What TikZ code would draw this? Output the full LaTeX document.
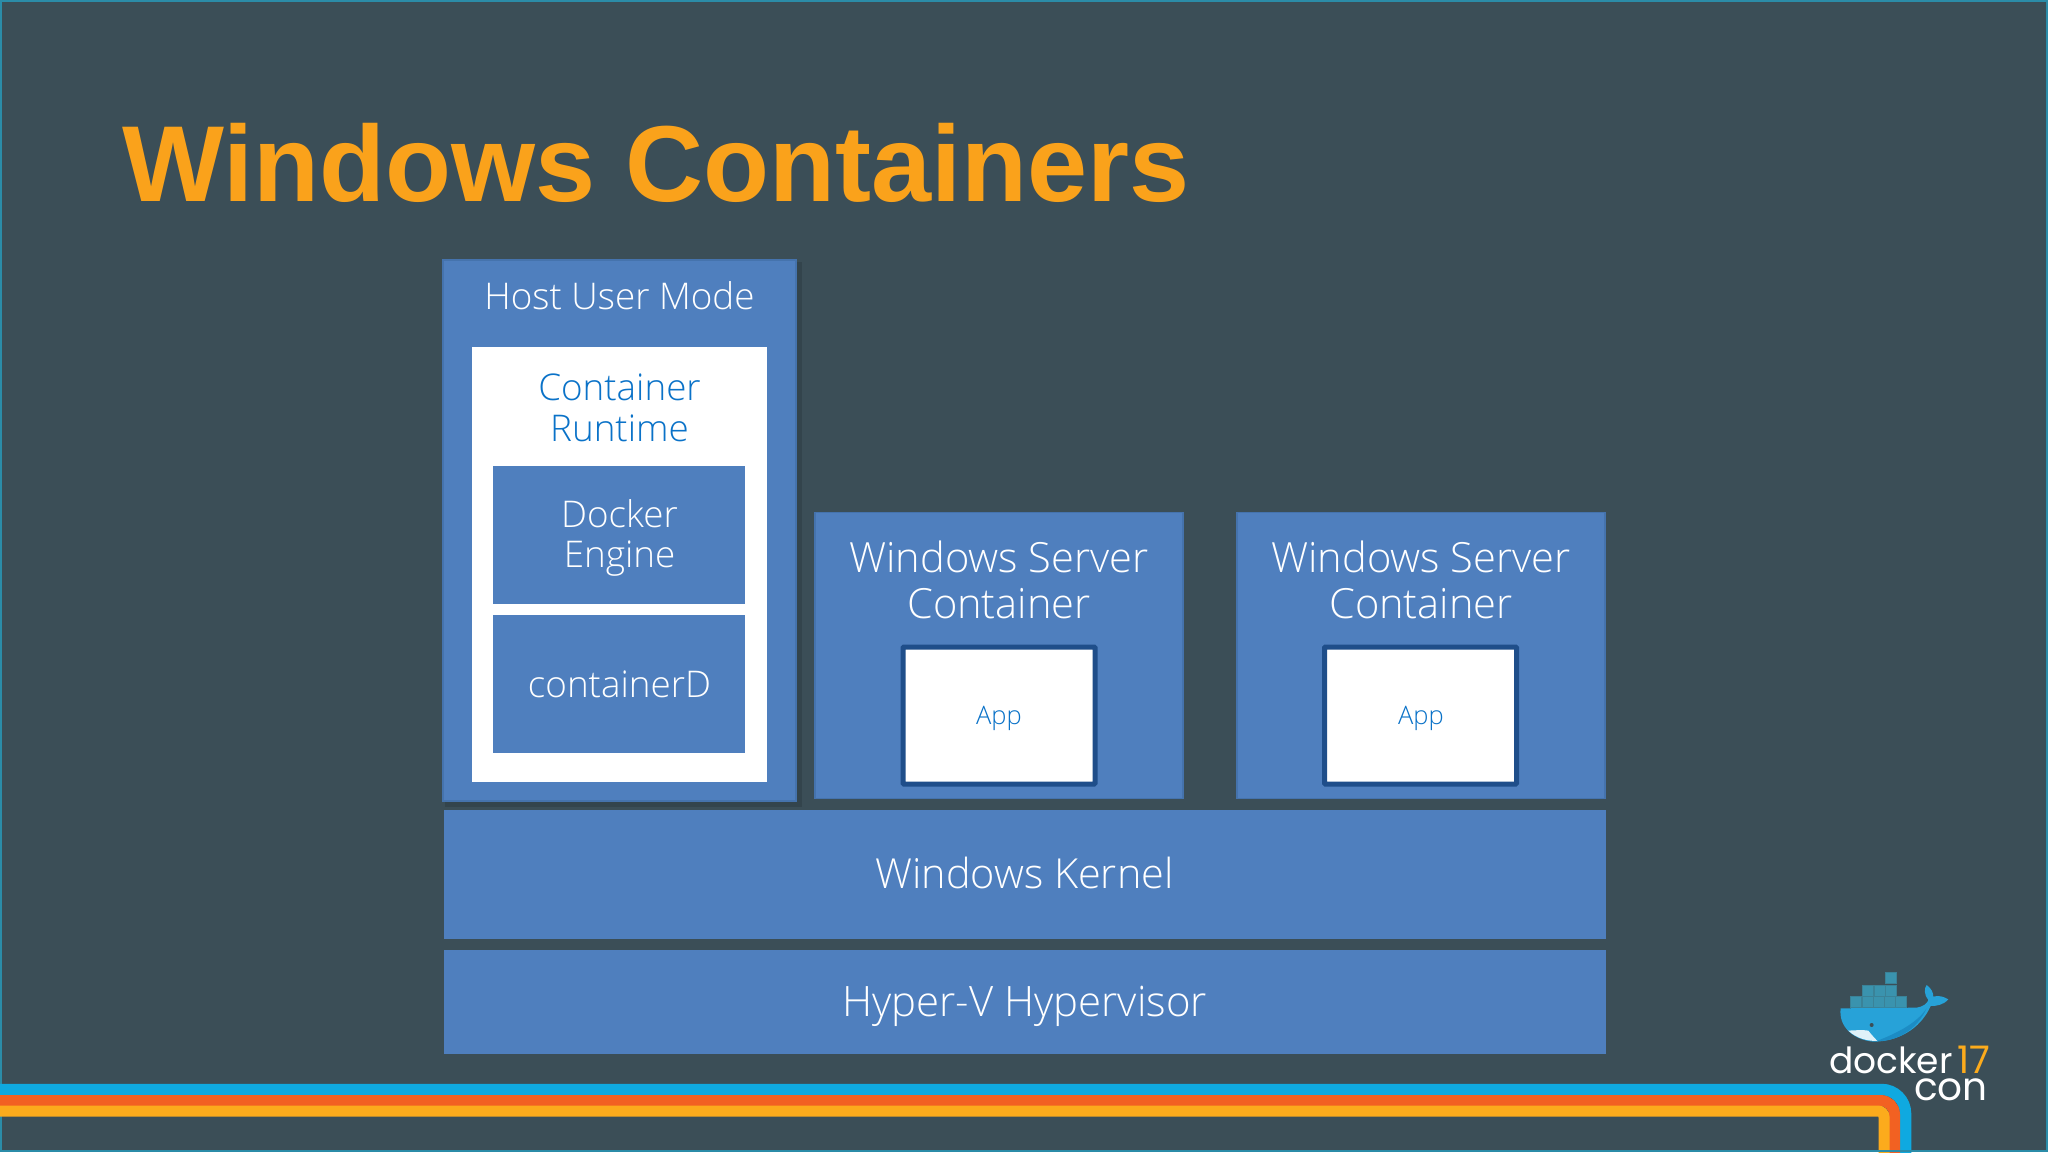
\documentclass[tikz,border=0pt]{standalone}
\usepackage{fontspec}
\setmainfont{Open Sans Light}
\newfontfamily\titlefont{Liberation Sans}[BoldFont={Liberation Sans Bold}]
\newfontfamily\logofont{Poppins}
\definecolor{bg}{HTML}{3B4E57}
\definecolor{edge}{HTML}{2B8CA8}
\definecolor{boxblue}{HTML}{4F7FBE}
\definecolor{boxedge}{HTML}{4573AD}
\definecolor{appedge}{HTML}{1F4E8A}
\definecolor{inkblue}{HTML}{0A72C8}
\definecolor{titleor}{HTML}{FAA21B}
\definecolor{stripeb}{HTML}{0FA9E0}
\definecolor{stripeo}{HTML}{F26122}
\definecolor{stripey}{HTML}{FCAB1C}
\definecolor{whale}{HTML}{27A2D8}
\definecolor{whaledark}{HTML}{1C8CC4}
\definecolor{crate}{HTML}{3A93AE}
\tikzset{
  box/.style={fill=boxblue,draw=none,anchor=north west,inner sep=0pt,outer sep=0pt},
  lab/.style 2 args={text=white,align=center,font=\fontsize{#1}{#2}\selectfont,inner sep=0pt},
  ink/.style 2 args={text=inkblue,align=center,font=\fontsize{#1}{#2}\selectfont,inner sep=0pt},
  crate box/.style={fill=crate,draw=crate!75!bg,line width=0.6pt}
}
\begin{document}
\begin{tikzpicture}[x=1pt,y=-1pt]
\useasboundingbox (0,0) rectangle (2048,1152);
\fill[bg] (0,0) rectangle (2048,1152);
\draw[edge,line width=2.5pt] (1,1) rectangle (2047,1151);
% stripes
\draw[stripeb,line width=11.5pt,rounded corners=24pt] (-5,1089.5) -| (1905.5,1160);
\draw[stripeo,line width=11pt,rounded corners=14pt] (-5,1100.5) -| (1894.5,1160);
\draw[stripey,line width=11pt,rounded corners=6pt] (-5,1111) -| (1884,1160);
\draw[edge,line width=2.5pt] (0,1151) -- (2048,1151);
\node[anchor=base west,inner sep=0pt,text=titleor,font=\titlefont\bfseries\fontsize{108}{116}\selectfont] (title) at (122,201) {Windows Containers};
% host
\fill[black,opacity=.12] (445,262) rectangle (802,807);
\node[box,draw=boxedge,line width=2pt,minimum width=353pt,minimum height=541pt] (host) at (443,260) {};
\node[lab={36.8}{40}] (hostl) at (619.5,295.5) {Host User Mode};
\node[box,fill=white,minimum width=295pt,minimum height=435pt] (runtime) at (472,347) {};
\node[ink={36.8}{40.5}] (runtimel) at (619.5,408) {Container\\Runtime};
\node[box,minimum width=252pt,minimum height=138pt] (engine) at (493,466) {};
\node[lab={36.8}{40.5}] (enginel) at (619.5,538) {Docker\\Engine};
\node[box,minimum width=252pt,minimum height=138pt] (cd) at (493,615) {};
\node[lab={36.8}{40}] (cdl) at (619.5,684) {containerD};
% server containers
\node[box,draw=boxedge,line width=1.5pt,minimum width=368pt,minimum height=286pt] (ws1) at (815,512.5) {};
\node[lab={41.6}{45.5}] (ws1l) at (999,580) {Windows Server\\Container};
\node[box,fill=white,draw=appedge,line width=5pt,rounded corners=1pt,minimum width=192pt,minimum height=137pt] (app1) at (903,647) {};
\node[ink={25.5}{30}] (app1l) at (999,718.5) {App};
\node[box,draw=boxedge,line width=1.5pt,minimum width=368pt,minimum height=286pt] (ws2) at (1237,512.5) {};
\node[lab={41.6}{45.5}] (ws2l) at (1421,580) {Windows Server\\Container};
\node[box,fill=white,draw=appedge,line width=5pt,rounded corners=1pt,minimum width=192pt,minimum height=137pt] (app2) at (1324.5,647) {};
\node[ink={25.5}{30}] (app2l) at (1421,718.5) {App};
% bars
\node[box,minimum width=1162pt,minimum height=129pt] (kernel) at (443.5,810) {};
\node[lab={41.4}{45}] (kernell) at (1024.5,873) {Windows Kernel};
\node[box,minimum width=1162pt,minimum height=104pt] (hyper) at (443.5,950) {};
\node[lab={41.9}{45}] (hyperl) at (1024.5,1006) {Hyper-V Hypervisor};
% logo
\begin{scope}[shift={(1720,940)},x=0.3333pt,y=-0.3333pt]
\foreach \xa/\ya in {495/97,428/135,462/135,495/135,392/168,426/168,460/168,494/168,527/168}
  \path[crate box] (\xa,\ya) rectangle ++(33,33);
\fill[whale] (362,205) -- (590,203) .. controls (610,200) and (622,190) .. (625,180)
  .. controls (612,165) and (612,145) .. (620,135) .. controls (634,145) and (640,158) .. (640,170)
  .. controls (655,165) and (672,170) .. (685,178) .. controls (670,195) and (650,198) .. (632,198)
  .. controls (600,270) and (530,305) .. (460,305) .. controls (400,300) and (355,260) .. (362,205) -- cycle;
\fill[whaledark] (470,303) .. controls (530,280) and (590,250) .. (620,205) .. controls (590,270) and (530,305) .. (470,303) -- cycle;
\fill[white!85!whale] (385,272) .. controls (410,270) and (440,270) .. (445,272) .. controls (455,285) and (465,295) .. (472,303) .. controls (440,303) and (410,295) .. (385,272) -- cycle;
\fill[bg] (455,255) circle[radius=6];
\end{scope}
\node[anchor=base west,inner sep=0pt,text=white,font=\logofont\fontsize{36}{40}\selectfont] (dockerl) at (1829,1073) {docker};
\node[anchor=base west,inner sep=0pt,text=stripey,font=\logofont\fontsize{38}{40}\selectfont] (seventeen) at (1957,1073) {17};
\node[anchor=base west,inner sep=0pt,text=white,font=\logofont\fontsize{39}{40}\selectfont] (con) at (1914,1100) {con};
\end{tikzpicture}
\end{document}
